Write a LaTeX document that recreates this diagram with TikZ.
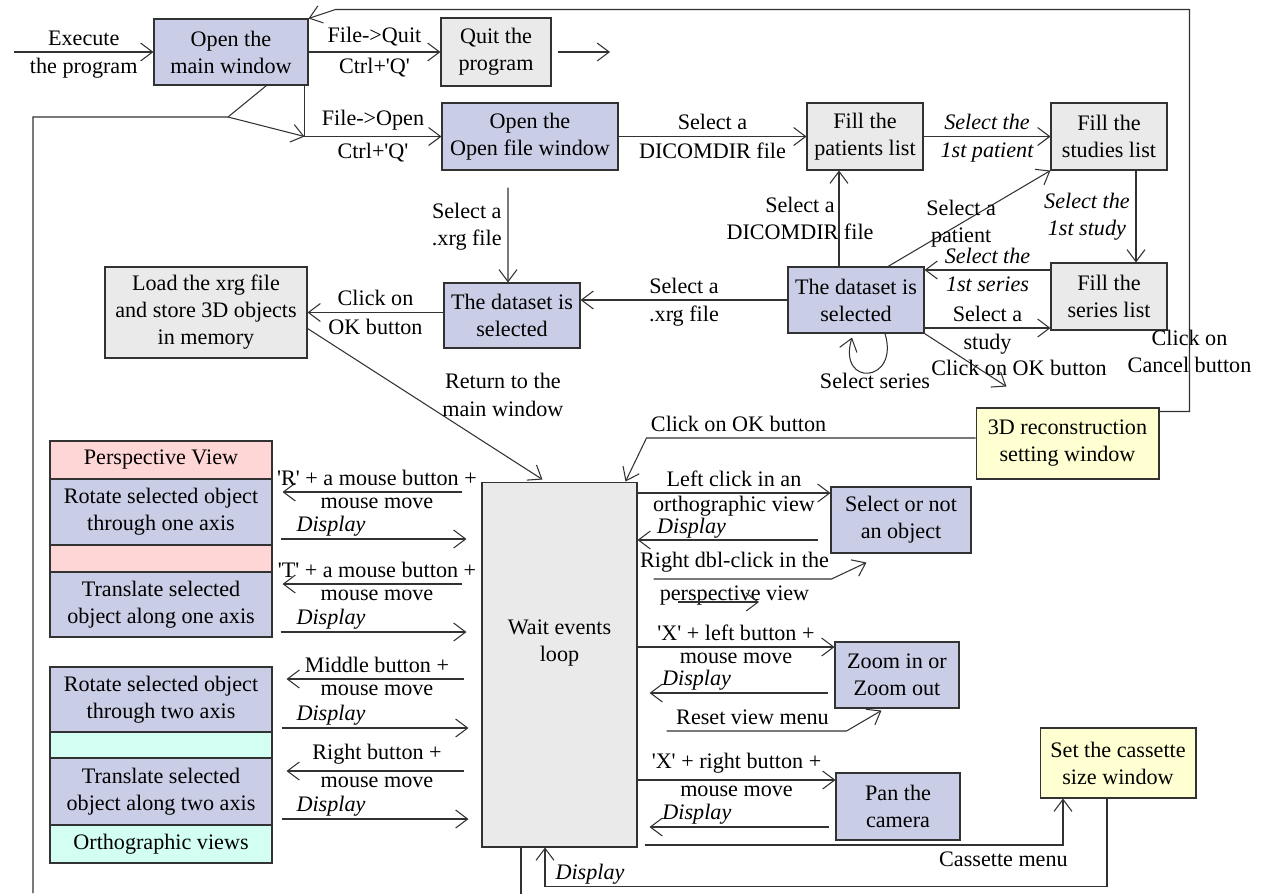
\documentclass[tikz,border=0pt]{standalone}
\usepackage{fontspec}
\setmainfont{Liberation Serif}
\usetikzlibrary{arrows.meta}
\definecolor{wlavender}{RGB}{201,205,229}
\definecolor{wgray}{RGB}{234,234,234}
\definecolor{wpink}{RGB}{255,214,214}
\definecolor{waqua}{RGB}{210,255,242}
\definecolor{wcream}{RGB}{255,255,210}
\definecolor{wline}{RGB}{50,50,50}
\newcommand{\dfont}{\fontsize{12.6}{15.4}\selectfont}
\newcommand{\sq}{\textquotesingle}

\begin{document}
\begin{tikzpicture}[
  x=0.02cm, y=-0.02cm,
  every node/.style={font=\dfont},
  box/.style={rectangle, draw=wline, line width=0.6pt, align=center, inner sep=2pt},
  action/.style={box, fill=wlavender},
  stategray/.style={box, fill=wgray},
  dialog/.style={box, fill=wcream},
  cell/.style={box, minimum width=4.44cm},
  flow/.style={draw=wline, line width=0.6pt},
  arrow/.style={flow, -{Straight Barb[length=2.4mm,width=3.6mm]}},
  emph lbl/.style={font=\dfont\itshape},
  display lbl/.style={font=\dfont\itshape, inner sep=1pt}
]
\useasboundingbox (0,0) rectangle (1264,893);
\fill[white] (0,0) rectangle (1264,893);

% Top row
\node[action, minimum width=3.08cm, minimum height=1.32cm] (mainwin) at (231,52) {Open the\\main window};
\node[stategray, minimum width=2.2cm, minimum height=1.36cm] (quit) at (496,52) {Quit the\\program};
\node[action, minimum width=3.52cm, minimum height=1.34cm] (openfile) at (530,136.5) {Open the\\Open file window};
\node[stategray, minimum width=2.32cm, minimum height=1.34cm] (patients) at (865,136.5) {Fill the\\patients list};
\node[stategray, minimum width=2.32cm, minimum height=1.34cm] (studies) at (1109,136.5) {Fill the\\studies list};

% Middle row
\node[stategray, minimum width=2.32cm, minimum height=1.34cm] (series) at (1109,296.5) {Fill the\\series list};
\node[action, minimum width=2.72cm, minimum height=1.32cm] (picked) at (856,300) {The dataset is\\selected};
\node[action, minimum width=2.72cm, minimum height=1.3cm] (xrgpicked) at (512,315.5) {The dataset is\\selected};
\node[stategray, minimum width=4.04cm, minimum height=1.82cm] (load) at (206,312.5) {Load the xrg file\\and store 3D objects\\in memory};
\node[dialog, minimum width=3.66cm, minimum height=1.42cm] (recon) at (1067.5,443.5) {3D reconstruction\\setting window};

% Event loop and its actions
\node[stategray, minimum width=3.1cm, minimum height=7.3cm, label={[align=center,yshift=0.43cm]center:{Wait events\\loop}}] (wait) at (559.5,664.5) {};
\node[action, minimum width=2.8cm, minimum height=1.32cm] (pick) at (901,520) {Select or not\\an object};
\node[action, minimum width=2.48cm, minimum height=1.32cm] (zoom) at (897,675) {Zoom in or\\Zoom out};
\node[action, minimum width=2.48cm, minimum height=1.34cm] (pan) at (898,806.5) {Pan the\\camera};
\node[dialog, minimum width=3.12cm, minimum height=1.4cm] (cassette) at (1118,763) {Set the cassette\\size window};

% Left panel
\node[cell, fill=wpink, minimum height=0.76cm] (persp) at (161,460) {Perspective View};
\node[cell, fill=wlavender, minimum height=1.32cm] (rotone) at (161,512) {Rotate selected object\\through one axis};
\node[cell, fill=wpink, minimum height=0.54cm] (perspgap) at (161,558.5) {};
\node[cell, fill=wlavender, minimum height=1.3cm] (movone) at (161,604.5) {Translate selected\\object along one axis};
\node[cell, fill=wlavender, minimum height=1.3cm] (rottwo) at (161,699.5) {Rotate selected object\\through two axis};
\node[cell, fill=waqua, minimum height=0.52cm] (orthogap) at (161,745) {};
\node[cell, fill=wlavender, minimum height=1.34cm] (movtwo) at (161,791.5) {Translate selected\\object along two axis};
\node[cell, fill=waqua, minimum height=0.76cm] (ortho) at (161,844) {Orthographic views};

% Start, quit and open
\coordinate (launch) at (14,52);
\coordinate (quitend) at (610,52);
\coordinate (openbend) at ([xshift=-0.08cm]mainwin.south east);
\draw[arrow] (launch) -- node[above]{Execute} node[below]{the program} (mainwin);
\draw[arrow] (mainwin) -- node[above]{File->Quit} node[below]{Ctrl+\sq Q\sq} (quit);
\draw[arrow, shorten <=0.12cm] (quit) -- (quitend);
\draw[arrow] (openbend) |- node[pos=0.75,above]{File->Open} node[pos=0.75,below]{Ctrl+\sq Q\sq} (openfile);

% DICOMDIR browsing
\draw[arrow] (openfile) -- node[above]{Select a} node[below]{DICOMDIR file} (patients);
\draw[arrow] (patients) -- node[above, emph lbl]{Select the} node[below, emph lbl]{1st patient} (studies);
\draw[arrow] ([xshift=0.54cm]studies.south) -- node[left, align=center, emph lbl]{Select the\\1st study} ([xshift=0.54cm]series.north);
\draw[arrow] (series.west |- 0,270) -- node[above, emph lbl]{Select the} node[below, emph lbl]{1st series} (picked.east |- 0,270);
\draw[arrow] (picked.east |- 0,328) -- node[above]{Select a} node[below]{study} (series.west |- 0,328);
\draw[arrow] (picked.north -| 839,0) -- node[xshift=-0.78cm, align=center]{Select a\\DICOMDIR file} (patients.south -| 839,0);
\draw[arrow] ([xshift=0.64cm]picked.north) -- node[pos=0.45, align=center]{Select a\\patient} (studies.south west);
\draw[arrow] ([xshift=0.58cm]picked.south) .. controls +(15,50) and +(-15,50) .. ([xshift=-0.08cm,yshift=-0.08cm]picked.south);
\node (loopnote) at ([xshift=0.38cm,yshift=-0.94cm]picked.south) {Select series};
\draw[arrow] (picked.south east) -- node[pos=0.8, xshift=0.58cm, yshift=0.16cm]{Click on OK button} ([xshift=0.62cm,yshift=0.42cm]recon.north west);

% xrg file
\draw[arrow] (picked.west) -- node[above]{Select a} node[below]{.xrg file} (xrgpicked.east |- picked.west);
\draw[arrow, shorten <=0.34cm] ([xshift=-0.44cm]openfile.south) -- node[left, align=center]{Select a\\.xrg file} (xrgpicked.north -| 508,0);
\draw[arrow] (xrgpicked.west |- load.east) -- node[above]{Click on} node[below]{OK button} (load.east);
\draw[arrow] ([yshift=-0.32cm]load.east) -- node[pos=0.44, anchor=west, xshift=0.5cm, align=center]{Return to the\\main window} ([xshift=1.22cm,yshift=0.04cm]wait.north west);

% Reconstruction window
\draw[arrow] ([yshift=0.11cm]recon.west) -- node[pos=0.72, above]{Click on OK button} ++(-329,0) -- ([xshift=-0.24cm]wait.north east);
\draw[arrow] ([yshift=-0.08cm]recon.north east) -- ++(30,0) -- node[pos=0.15, align=center]{Click on\\Cancel button} ++(0,-402) -- ++(-854,0) -- (mainwin.north east);

% Back to the main window
\coordinate (leftfoot) at (33,893);
\coordinate (leftjoin) at (228,117);
\draw[flow] (leftfoot) |- (leftjoin) -- ([xshift=2.26cm]mainwin.south west);
\draw[arrow] (leftjoin) -- (openbend |- openfile.west);
\draw[flow] ([xshift=-0.77cm]wait.south) -- ++(0,46);

% Right side actions
\draw[arrow] (wait.east |- 0,493) -- node[above]{Left click in an} node[below, inner sep=1.5pt]{orthographic view} (pick.west |- 0,493);
\draw[arrow, shorten <=0.26cm] (pick.west |- 0,540) -- node[pos=0.72, above, display lbl, inner sep=0.5pt]{Display} (wait.east |- 0,540);
\draw[arrow, shorten <=0.32cm] (wait.east |- 0,579) -- node[above]{Right dbl-click in the} node[below]{perspective view} ++(194,0) -- ([xshift=0.72cm,yshift=-0.18cm]pick.south west);
\coordinate (strayA) at (678,602);
\coordinate (strayB) at (759,602);
\draw[arrow] (strayA) -- (strayB);
\draw[arrow] (wait.east |- 0,647) -- node[above]{\sq X\sq{} + left button +} node[below]{mouse move} (zoom.west |- 0,647);
\draw[arrow, shorten <=0.12cm, shorten >=0.24cm] (zoom.west |- 0,693) -- node[pos=0.7, above, display lbl]{Display} (wait.east |- 0,693);
\draw[arrow, shorten <=0.58cm] (wait.east |- 0,731) -- node[pos=0.55, above]{Reset view menu} ++(209,0) -- ([xshift=0.94cm,yshift=-0.04cm]zoom.south west);
\draw[arrow] (wait.east |- 0,780) -- node[above]{\sq X\sq{} + right button +} node[below]{mouse move} (pan.west |- 0,780);
\draw[arrow, shorten <=0.12cm, shorten >=0.24cm] (pan.west |- 0,827) -- node[pos=0.7, above, display lbl]{Display} (wait.east |- 0,827);
\draw[arrow, shorten <=0.14cm] (wait.east |- 0,845) -| node[pos=0.43, below]{Cassette menu} ([xshift=-1.1cm]cassette.south);
\draw[arrow] ([xshift=-0.22cm]cassette.south) -- ++(0,88) -| node[pos=0.46, above, display lbl]{Display} ([xshift=-0.29cm]wait.south);

% Left side actions
\draw[arrow, shorten <=0.38cm, shorten >=0.2cm] (wait.west |- 0,492) -- node[above]{\sq R\sq{} + a mouse button +} node[below]{mouse move} (rotone.east |- 0,492);
\draw[arrow, shorten <=0.16cm, shorten >=0.3cm] (rotone.east |- 0,539) -- node[pos=0.28, above, display lbl]{Display} (wait.west |- 0,539);
\draw[arrow, shorten <=0.38cm, shorten >=0.2cm] (wait.west |- 0,584) -- node[above]{\sq T\sq{} + a mouse button +} node[below]{mouse move} (movone.east |- 0,584);
\draw[arrow, shorten <=0.16cm, shorten >=0.3cm] (movone.east |- 0,632) -- node[pos=0.28, above, display lbl]{Display} (wait.west |- 0,632);
\draw[arrow, shorten <=0.34cm, shorten >=0.28cm] (wait.west |- 0,679) -- node[above]{Middle button +} node[below]{mouse move} (rottwo.east |- 0,679);
\draw[arrow, shorten <=0.18cm, shorten >=0.26cm] (rottwo.east |- 0,728) -- node[pos=0.28, above, display lbl]{Display} (wait.west |- 0,728);
\draw[arrow, shorten <=0.34cm, shorten >=0.28cm] (wait.west |- 0,771) -- node[above]{Right button +} node[below]{mouse move} (movtwo.east |- 0,771);
\draw[arrow, shorten <=0.18cm, shorten >=0.26cm] (movtwo.east |- 0,819) -- node[pos=0.28, above, display lbl]{Display} (wait.west |- 0,819);

\end{tikzpicture}
\end{document}
